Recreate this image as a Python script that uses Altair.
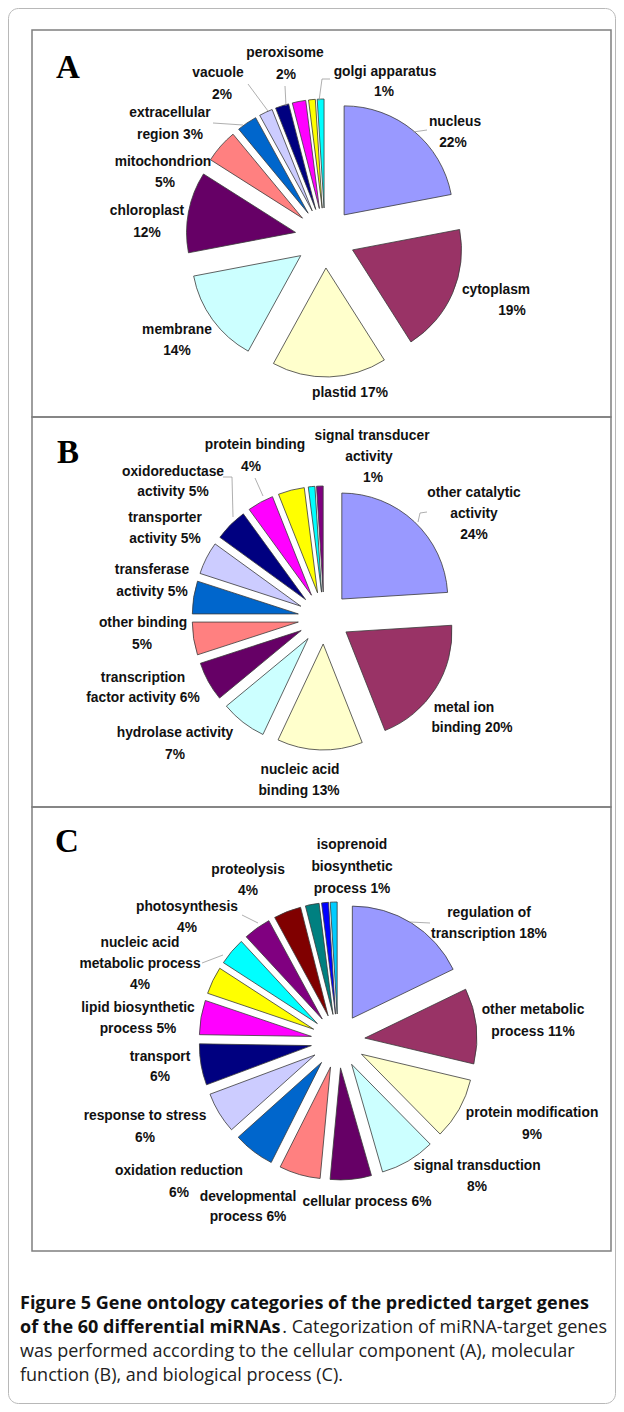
import altair as alt
import pandas as pd

# ---------------- data ----------------
PALETTE = ["#9999FF", "#993366", "#FFFFCC", "#CCFFFF", "#660066", "#FF8080",
           "#0066CC", "#CCCCFF", "#000080", "#FF00FF", "#FFFF00", "#00FFFF",
           "#800080", "#800000", "#008080", "#0000FF", "#00CCFF"]

A_CATS = ["nucleus", "cytoplasm", "plastid", "membrane", "chloroplast",
          "mitochondrion", "extracellular region", "vacuole", "peroxisome",
          "unlabelled A1", "golgi apparatus", "unlabelled A2"]
A_PCT = [22, 19, 17, 14, 12, 5, 3, 2, 2, 2, 1, 1]

B_CATS = ["other catalytic activity", "metal ion binding", "nucleic acid binding",
          "hydrolase activity", "transcription factor activity", "other binding",
          "transferase activity", "transporter activity", "oxidoreductase activity",
          "protein binding", "unlabelled B1", "unlabelled B2",
          "signal transducer activity"]
B_PCT = [24, 20, 13, 7, 6, 5, 5, 5, 5, 4, 4, 1, 1]

C_CATS = ["regulation of transcription", "other metabolic process",
          "protein modification", "signal transduction", "cellular process",
          "developmental process", "oxidation reduction", "response to stress",
          "transport", "lipid biosynthetic process", "unlabelled C1",
          "nucleic acid metabolic process", "photosynthesis", "proteolysis",
          "unlabelled C2", "unlabelled C3", "isoprenoid biosynthetic process"]
C_PCT = [18, 11, 9, 8, 6, 6, 6, 6, 6, 5, 4, 4, 4, 4, 2, 1, 1]

# label text lines (text, x, y) in page pixels
A_LABELS = [("peroxisome", 285, 53), ("2%", 286, 75),
            ("vacuole", 218, 73), ("2%", 222, 95),
            ("golgi apparatus", 385, 72), ("1%", 384, 92),
            ("extracellular", 170, 113), ("region 3%", 170, 135),
            ("mitochondrion", 163, 162), ("5%", 165, 183),
            ("chloroplast", 147, 211), ("12%", 147, 233),
            ("membrane", 177, 330), ("14%", 177, 351),
            ("plastid 17%", 350, 393),
            ("cytoplasm", 496, 290), ("19%", 512, 311),
            ("nucleus", 455, 122), ("22%", 453, 143)]
B_LABELS = [("signal transducer", 372, 436), ("activity", 369, 457), ("1%", 373, 478),
            ("protein binding", 255, 445), ("4%", 251, 467),
            ("oxidoreductase", 173, 472), ("activity 5%", 173, 492),
            ("transporter", 165, 518), ("activity 5%", 165, 539),
            ("transferase", 152, 570), ("activity 5%", 152, 592),
            ("other binding", 143, 623), ("5%", 142, 645),
            ("transcription", 143, 678), ("factor activity 6%", 143, 698),
            ("hydrolase activity", 175, 733), ("7%", 175, 755),
            ("nucleic acid", 300, 770), ("binding 13%", 299, 791),
            ("other catalytic", 474, 493), ("activity", 474, 514), ("24%", 474, 535),
            ("metal ion", 464, 708), ("binding  20%", 472, 728)]
C_LABELS = [("isoprenoid", 352, 845), ("biosynthetic", 352, 867), ("process 1%", 352, 889),
            ("proteolysis", 248, 870), ("4%", 248, 891),
            ("photosynthesis", 187, 907), ("4%", 187, 928),
            ("nucleic acid", 140, 943), ("metabolic process", 140, 964), ("4%", 140, 985),
            ("lipid biosynthetic", 138, 1008), ("process 5%", 138, 1029),
            ("transport", 160, 1057), ("6%", 160, 1077),
            ("response to stress", 145, 1116), ("6%", 145, 1138),
            ("oxidation reduction", 179, 1171), ("6%", 179, 1193),
            ("developmental", 248, 1197), ("process 6%", 248, 1217),
            ("cellular process 6%", 367, 1202),
            ("signal transduction", 477, 1166), ("8%", 477, 1187),
            ("protein modification", 532, 1113), ("9%", 532, 1135),
            ("other metabolic", 533, 1010), ("process 11%", 533, 1032),
            ("regulation of", 489, 913), ("transcription 18%", 489, 934)]

# leader lines (x, y, x2, y2) in page pixels
LEADERS = [(248, 84, 268, 111), (285, 86, 286, 106),
           (330, 79, 322, 79), (322, 79, 319, 101),
           (213, 123, 243, 125), (427, 130, 413, 132),
           (223, 477, 232, 477), (232, 477, 233, 517),
           (255, 478, 263, 496),
           (427, 512, 420, 513), (420, 513, 418, 522),
           (242, 915, 258, 923), (202, 963, 223, 955),
           (410, 922, 430, 923)]

PANEL_LETTERS = [("A", 68, 68), ("B", 68, 453), ("C", 67, 842)]

CAPTION_BOLD = [("Figure 5 Gene ontology categories of the predicted target genes", 20, 1304),
                ("of the 60 differential miRNAs", 20, 1328)]
CAPTION_REG_RIGHT = [(". Categorization of miRNA-target genes", 607, 1328)]
CAPTION_REG = [("was performed according to the cellular component (A), molecular", 20, 1352),
               ("function (B), and biological process (C).", 20, 1376)]

OFF = 8  # page margin
W, H = 608, 1396


def px(v):
    return v - OFF


def pie(cats, pcts, cx, cy, r, k):
    df = pd.DataFrame({"cat": cats, "pct": pcts,
                       "color": PALETTE[:len(cats)], "idx": list(range(len(cats)))})
    return (
        alt.Chart(df)
        .transform_window(cum="sum(pct)", sort=[alt.SortField("idx")], frame=[None, 0])
        .transform_joinaggregate(total="sum(pct)")
        .transform_calculate(t0="(datum.cum - datum.pct) / datum.total")
        .transform_calculate(t1="datum.cum / datum.total")
        .transform_calculate(cxp=f"{px(cx)} + {k} * sin(PI * (datum.t0 + datum.t1))")
        .transform_calculate(cyp=f"{px(cy)} - {k} * cos(PI * (datum.t0 + datum.t1))")
        .mark_arc(outerRadius=r, stroke="#3a3a3a", strokeWidth=0.8)
        .encode(
            x=alt.X("cxp:Q", scale=None),
            y=alt.Y("cyp:Q", scale=None),
            theta=alt.Theta("t0:Q", scale=alt.Scale(domain=[0, 1]), stack=False),
            theta2="t1:Q",
            color=alt.Color("color:N", scale=None),
        )
    )


def text_layer(items, **kw):
    df = pd.DataFrame({"text": [t for t, _, _ in items],
                       "x": [px(x) for _, x, _ in items],
                       "y": [px(y) for _, _, y in items]})
    return alt.Chart(df).mark_text(baseline="middle", **kw).encode(
        x=alt.X("x:Q", scale=None), y=alt.Y("y:Q", scale=None), text="text:N")


# frames
outer = alt.Chart(pd.DataFrame({"x": [0.5], "y": [0.5], "x2": [W - 0.5], "y2": [H - 0.5]})).mark_rect(
    fillOpacity=0, stroke="#b8b8b8", strokeWidth=1, cornerRadius=10).encode(
    x=alt.X("x:Q", scale=None), y=alt.Y("y:Q", scale=None), x2="x2:Q", y2="y2:Q")

boxes_df = pd.DataFrame({"x": [px(32)] * 3, "x2": [px(611)] * 3,
                         "y": [px(30), px(417), px(807)],
                         "y2": [px(417), px(807), px(1251)]})
boxes = alt.Chart(boxes_df).mark_rect(fillOpacity=0, stroke="#7f7f7f", strokeWidth=1.5).encode(
    x=alt.X("x:Q", scale=None), y=alt.Y("y:Q", scale=None), x2="x2:Q", y2="y2:Q")

lead_df = pd.DataFrame({"x": [px(a) for a, _, _, _ in LEADERS],
                        "y": [px(b) for _, b, _, _ in LEADERS],
                        "x2": [px(c) for _, _, c, _ in LEADERS],
                        "y2": [px(d) for _, _, _, d in LEADERS]})
leaders = alt.Chart(lead_df).mark_rule(color="#9a9a9a", strokeWidth=0.8).encode(
    x=alt.X("x:Q", scale=None), y=alt.Y("y:Q", scale=None), x2="x2:Q", y2="y2:Q")

pieA = pie(A_CATS, A_PCT, 325, 238, 109, 30)
pieB = pie(B_CATS, B_PCT, 324, 618, 106, 26)
pieC = pie(C_CATS, C_PCT, 338, 1041, 112, 27)

lab_font = dict(font="Liberation Sans", fontSize=13.8,
                fontWeight="bold", color="#111111", align="center")
labels = text_layer(A_LABELS + B_LABELS + C_LABELS, **lab_font)

letters = text_layer(PANEL_LETTERS, font="Liberation Serif", fontSize=33, fontWeight="bold",
                     color="#000000", align="center")

CAP_FONT = "Open Sans"
CAP_SIZE = 18
cap_bold = text_layer(CAPTION_BOLD, font=CAP_FONT, fontSize=CAP_SIZE, fontWeight="bold",
                      color="#111111", align="left")
cap_reg_r = text_layer(CAPTION_REG_RIGHT, font=CAP_FONT, fontSize=CAP_SIZE, fontWeight="normal",
                       color="#222222", align="right")
cap_reg = text_layer(CAPTION_REG, font=CAP_FONT, fontSize=CAP_SIZE, fontWeight="normal",
                     color="#222222", align="left")

chart = alt.layer(outer, boxes, pieA, pieB, pieC, leaders, labels, letters,
                  cap_bold, cap_reg_r, cap_reg).properties(
    width=W, height=H, autosize=alt.AutoSizeParams(type="none"), padding=0
).configure_view(stroke="transparent")

chart.save("out.html", embed_options={"renderer": "svg", "actions": False})
